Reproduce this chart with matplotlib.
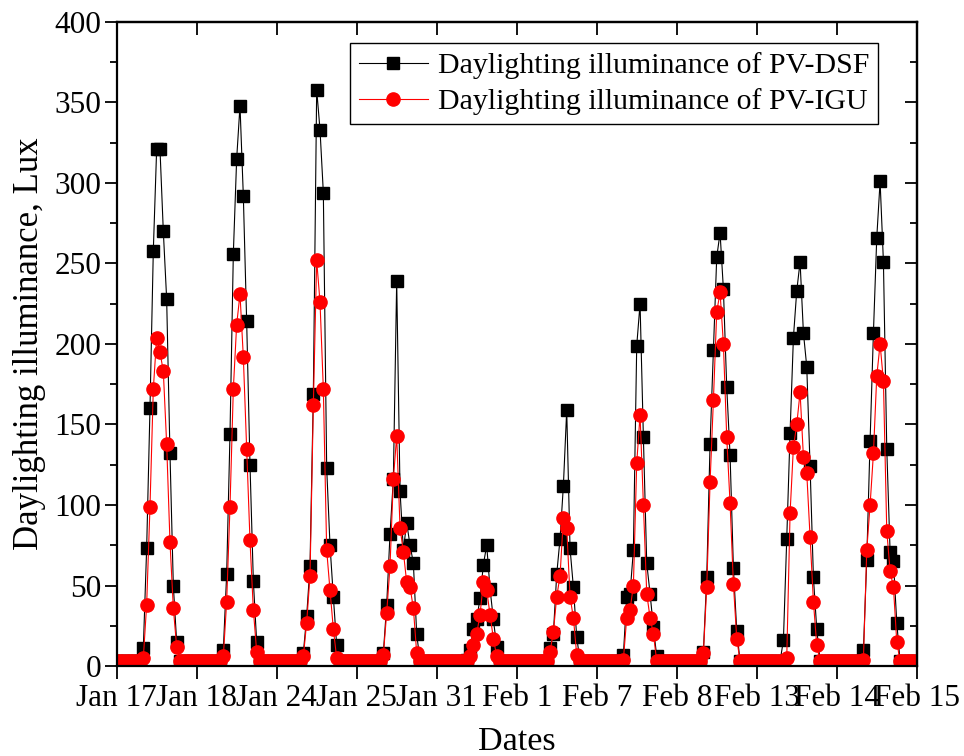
import matplotlib
matplotlib.use("Agg")
import matplotlib.pyplot as plt
from matplotlib.ticker import MultipleLocator
import numpy as np

# hourly illuminance (lux), 24 values per sampled day
day_labels = ["Jan 17", "Jan 18", "Jan 24", "Jan 25", "Jan 31", "Feb 1",
              "Feb 7", "Feb 8", "Feb 13", "Feb 14", "Feb 15"]

dsf_jan17 = [3,3,3,3,3,3,3,3, 11,73,160,258,321,321,270,228,132,50,15, 3,3,3,3,3]
dsf_jan18 = [3,3,3,3,3,3,3,3, 10,57,144,256,315,348,292,214,125,53,15, 3,3,3,3,3]
dsf_jan24 = [3,3,3,3,3,3,3,3, 8,31,62,169,358,333,294,123,75,43,13, 3,3,3,3,3]
dsf_jan25 = [3,3,3,3,3,3,3,3, 8,38,82,116,239,109,72,89,75,64,20, 3,3,3,3,3]
dsf_jan31 = [3,3,3,3,3,3,3,3,3, 4,10,23,29,42,63,75,48,29,12, 3,3,3,3,3]
dsf_feb01 = [3,3,3,3,3,3,3,3,3,3, 11,20,57,79,112,159,73,49,18, 3,3,3,3,3]
dsf_feb07 = [3,3,3,3,3,3,3,3, 7,43,45,72,199,225,142,64,45,24,6, 3,3,3,3,3]
dsf_feb08 = [3,3,3,3,3,3,3,3, 9,55,138,196,254,269,234,173,131,61,22, 3,3,3,3,3]
dsf_feb13 = [3,3,3,3,3,3,3,3, 16,79,145,204,233,251,207,186,124,55,23, 3,3,3,3,3]
dsf_feb14 = [3,3,3,3,3,3,3,3, 10,66,140,207,266,301,251,135,71,65,27, 3,3,3,3,3]

igu_jan17 = [3,3,3,3,3,3,3,3, 5,38,99,172,204,195,183,138,77,36,12, 3,3,3,3,3]
igu_jan18 = [3,3,3,3,3,3,3,3, 6,40,99,172,212,231,192,135,78,35,9, 3,3,3,3,3]
igu_jan24 = [3,3,3,3,3,3,3,3, 6,27,56,162,252,226,172,72,47,23,5, 3,3,3,3,3]
igu_jan25 = [3,3,3,3,3,3,3,3, 7,33,62,116,143,86,71,52,49,36,8, 3,3,3,3,3]
igu_jan31 = [3,3,3,3,3,3,3,3,3,3, 6,13,20,32,52,47,32,17,6, 3,3,3,3,3]
igu_feb01 = [3,3,3,3,3,3,3,3,3,3, 9,21,43,56,92,86,43,30,7, 3,3,3,3,3]
igu_feb07 = [3,3,3,3,3,3,3,3, 4,30,35,50,126,156,100,45,30,20,3, 3,3,3,3,3]
igu_feb08 = [3,3,3,3,3,3,3,3, 8,49,114,165,220,232,200,142,101,51,17, 3,3,3,3,3]
igu_feb13 = [3,3,3,3,3,3,3,3, 3,5,95,136,150,170,130,120,80,40,13, 3,3,3,3,3]
igu_feb14 = [3,3,3,3,3,3,3,3, 4,72,100,132,180,200,177,84,59,49,15, 3,3,3,3,3]
end_value = [3]

dsf = np.array(dsf_jan17 + dsf_jan18 + dsf_jan24 + dsf_jan25 + dsf_jan31 +
               dsf_feb01 + dsf_feb07 + dsf_feb08 + dsf_feb13 + dsf_feb14 + end_value)
igu = np.array(igu_jan17 + igu_jan18 + igu_jan24 + igu_jan25 + igu_jan31 +
               igu_feb01 + igu_feb07 + igu_feb08 + igu_feb13 + igu_feb14 + end_value)
hours = np.arange(len(dsf))

plt.rcParams['font.family'] = ['Liberation Serif', 'DejaVu Serif']

fig = plt.figure(figsize=(9.64, 7.56), dpi=100)
ax = fig.add_axes([0.121, 0.119, 0.830, 0.852])

ax.plot(hours, dsf, color='black', lw=0.8, marker='s', ms=8.5,
        mfc='black', mec='black', label='Daylighting illuminance of PV-DSF')
ax.plot(hours, igu, color='red', lw=0.8, marker='o', ms=9.5,
        mfc='red', mec='red', label='Daylighting illuminance of PV-IGU')

ax.set_xlim(0, 240)
ax.set_ylim(0, 400)
ax.set_xticks(np.arange(0, 241, 24))
ax.set_xticklabels(day_labels)
ax.yaxis.set_major_locator(MultipleLocator(50))
ax.yaxis.set_minor_locator(MultipleLocator(25))

ax.tick_params(axis='both', which='major', direction='out', length=9, width=1.3,
               labelsize=22.5, top=False, right=False)
ax.tick_params(axis='y', which='minor', direction='out', length=5, width=1.3, right=False)
ax.tick_params(axis='x', pad=4)
ax.tick_params(axis='y', pad=2)

for s in ax.spines.values():
    s.set_linewidth(1.6)

# mirrored ticks pointing inward on top and right
top = ax.secondary_xaxis('top')
top.set_xticks(np.arange(0, 241, 24))
top.tick_params(direction='in', length=9, width=1.3, labeltop=False)
right = ax.secondary_yaxis('right')
right.yaxis.set_major_locator(MultipleLocator(50))
right.yaxis.set_minor_locator(MultipleLocator(25))
right.tick_params(which='major', direction='in', length=9, width=1.3, labelright=False)
right.tick_params(which='minor', direction='in', length=5, width=1.3)
top.spines['top'].set_linewidth(1.6)
right.spines['right'].set_linewidth(1.6)

ax.set_xlabel('Dates', fontsize=24.5, labelpad=10)
ax.set_ylabel('Daylighting illuminance, Lux', fontsize=25, labelpad=6)

leg = ax.legend(loc='upper right', bbox_to_anchor=(0.952, 0.967), fontsize=21.5,
                frameon=True, fancybox=False, edgecolor='black', framealpha=1,
                borderaxespad=0, handlelength=2.3, labelspacing=0.3,
                borderpad=0.3, handletextpad=0.35)
leg.get_frame().set_linewidth(1.0)

fig.savefig('out.png', dpi=100)
